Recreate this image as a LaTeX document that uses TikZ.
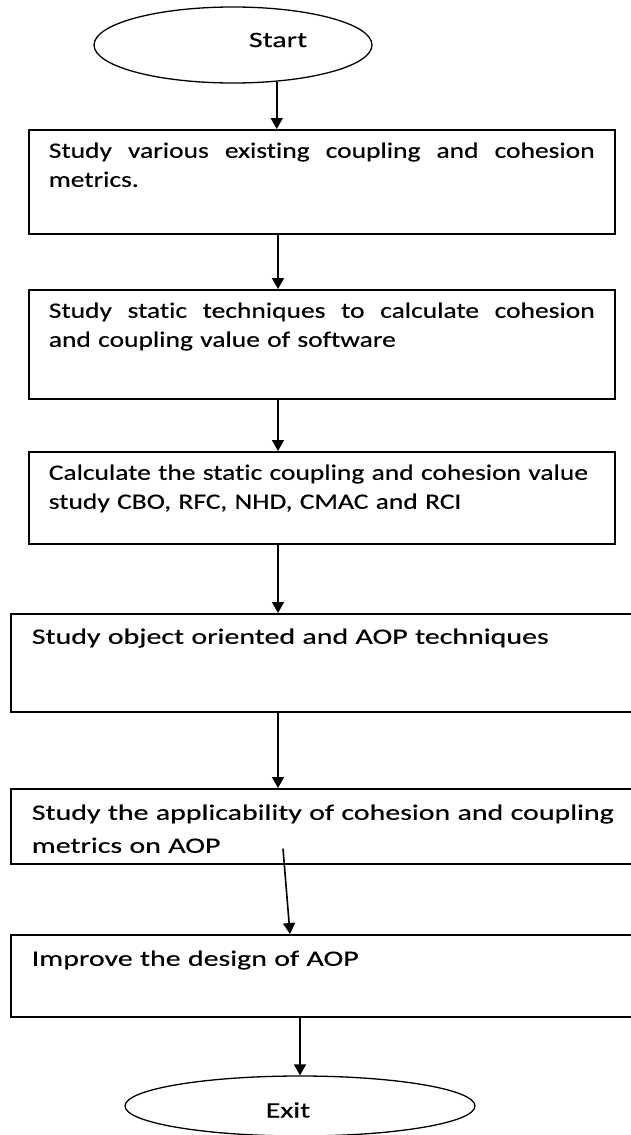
\documentclass[tikz,border=0pt]{standalone}
\usepackage{fontspec}
\setmainfont{Carlito}[FakeStretch=1.25,FakeBold=0.4,Ligatures=NoCommon]
\newfontfamily\widefont{Carlito}[FakeStretch=1.36,FakeBold=0.4,Ligatures=NoCommon]
\usetikzlibrary{calc,shapes.geometric,arrows.meta}

\newcommand\spreadline[1]{\makebox[546pt][s]{\spaceskip=0pt\relax #1}}

\tikzset{
  stepbox/.style={draw,line width=1.6pt,rectangle,anchor=north west,align=left,
    inner xsep=20pt,inner ysep=6pt,text height=22pt},
  term/.style={draw,line width=1.3pt,ellipse,inner sep=0pt},
  arr/.style={line width=1.6pt,-{Triangle[width=12pt,length=11pt]}}
}

\begin{document}
\begin{tikzpicture}[x=1pt,y=-1pt,font=\fontsize{22}{29}\selectfont]
    \useasboundingbox (0,0) rectangle (631,1135);
    \clip (0,0) rectangle (631,1135);

    \coordinate (axis) at (278,0);

    \node[term,minimum width=278pt,minimum height=76pt,
      label={[xshift=45pt,yshift=5pt,font=\widefont\fontsize{22}{29}\selectfont]center:Start}] (start) at (233,45) {};

    \node[stepbox,text width=546pt,text depth=70pt] (box1) at (28,129)
      {\spreadline{Study various existing coupling and cohesion}\\metrics.};
    \node[stepbox,text width=546pt,text depth=75pt] (box2) at (28,289)
      {\spreadline{Study static techniques to calculate cohesion}\\and coupling value of software};
    \node[stepbox,text width=546pt,text depth=58pt] (box3) at (28,451)
      {Calculate the static coupling and cohesion value\\study CBO, RFC, NHD, CMAC and RCI};

    % lower boxes run past the right edge
    \begin{scope}[font=\widefont\fontsize{22}{29}\selectfont]
    \node[stepbox,inner xsep=21pt,text width=600pt,text height=24pt,text depth=62pt] (box4) at (10,613)
      {Study object oriented and AOP techniques};
    \node[stepbox,inner xsep=21pt,text width=600pt,text height=25pt,text depth=38pt,
      font=\widefont\fontsize{22}{33}\selectfont] (box5) at (10,788)
      {Study the applicability of cohesion and coupling\\metrics on AOP};
    \node[stepbox,inner xsep=21pt,text width=600pt,text height=25pt,text depth=45pt] (box6) at (10,934)
      {Improve the design of AOP};

    \node[term,minimum width=350pt,minimum height=60pt,
      label={[xshift=-12pt,yshift=-4pt]center:Exit}] (exit) at (300,1106) {};
    \end{scope}

    \draw[arr] (start.-40) -- (start.-40 |- box1.north);
    \draw[arr] (box1.south -| axis) -- (box2.north -| axis);
    \draw[arr] (box2.south -| axis) -- (box3.north -| axis);
    \draw[arr] (box3.south -| axis) -- (box4.north -| axis);
    \draw[arr] (box4.south -| axis) -- (box5.north -| axis);
    \draw[arr] ([xshift=273pt,yshift=16pt]box5.south west) -- ([xshift=280pt]box6.north west);
    \draw[arr] (box6.south -| exit.north) -- (exit.north);
\end{tikzpicture}
\end{document}
